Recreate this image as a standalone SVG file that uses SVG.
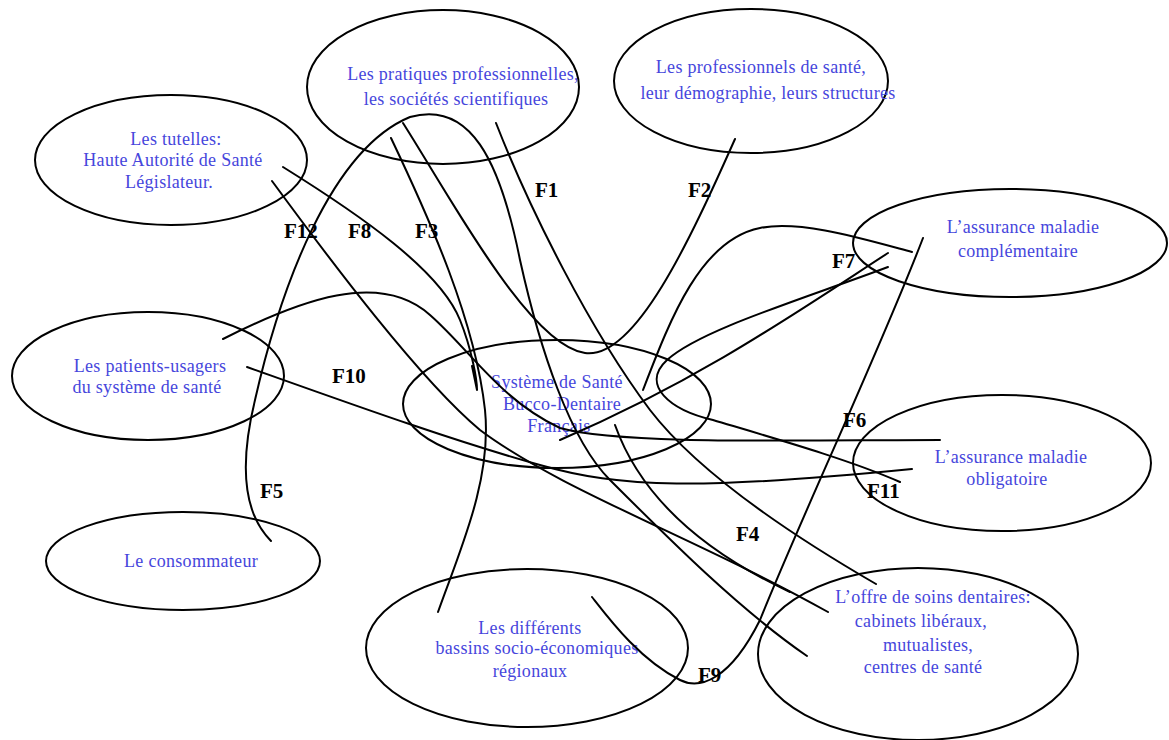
<svg xmlns="http://www.w3.org/2000/svg" width="1169" height="740" viewBox="0 0 1169 740">
  <style>
    .node ellipse { fill: none; stroke: #000; stroke-width: 2; }
    .node text { font-family: "Liberation Serif", "Times New Roman", serif; font-size: 18px; letter-spacing: 0.3px; fill: #4646dc; text-anchor: middle; }
    .flows path { fill: none; stroke: #000; stroke-width: 2; stroke-linecap: round; stroke-linejoin: round; }
    .flow-label { font-family: "Liberation Serif", "Times New Roman", serif; font-size: 21px; font-weight: bold; fill: #000; }
  </style>
  <rect width="1169" height="740" fill="#fff"/>

  <g id="pratiques" class="node">
    <ellipse cx="443" cy="87" rx="136" ry="77"/>
    <text x="463" y="80">Les pratiques professionnelles,</text>
    <text x="456" y="105">les sociétés scientifiques</text>
  </g>
  <g id="professionnels" class="node">
    <ellipse cx="751" cy="81" rx="137" ry="72"/>
    <text x="761" y="73">Les professionnels de santé,</text>
    <text x="768" y="99">leur démographie, leurs structures</text>
  </g>
  <g id="tutelles" class="node">
    <ellipse cx="171" cy="160" rx="136" ry="65"/>
    <text x="176" y="145">Les tutelles:</text>
    <text x="173" y="166">Haute Autorité de Santé</text>
    <text x="169" y="188">Législateur.</text>
  </g>
  <g id="patients" class="node">
    <ellipse cx="148" cy="376" rx="136" ry="64"/>
    <text x="150" y="372">Les patients-usagers</text>
    <text x="147" y="393">du système de santé</text>
  </g>
  <g id="consommateur" class="node">
    <ellipse cx="183" cy="561" rx="137" ry="49"/>
    <text x="191" y="567">Le consommateur</text>
  </g>
  <g id="systeme" class="node">
    <ellipse cx="557" cy="404" rx="154" ry="64"/>
    <text x="557" y="388">Système de Santé</text>
    <text x="562" y="410">Bucco-Dentaire</text>
    <text x="559" y="432">Français</text>
  </g>
  <g id="complementaire" class="node">
    <ellipse cx="1010" cy="243" rx="157" ry="54"/>
    <text x="1023" y="233">L’assurance maladie</text>
    <text x="1018" y="257">complémentaire</text>
  </g>
  <g id="obligatoire" class="node">
    <ellipse cx="1002" cy="463" rx="149" ry="68"/>
    <text x="1011" y="463">L’assurance maladie</text>
    <text x="1007" y="485">obligatoire</text>
  </g>
  <g id="offre" class="node">
    <ellipse cx="918" cy="654" rx="160" ry="86"/>
    <text x="933" y="603">L’offre de soins dentaires:</text>
    <text x="921" y="627">cabinets libéraux,</text>
    <text x="928" y="651">mutualistes,</text>
    <text x="923" y="673">centres de santé</text>
  </g>
  <g id="bassins" class="node">
    <ellipse cx="527" cy="648" rx="161" ry="79"/>
    <text x="530" y="634">Les différents</text>
    <text x="537" y="654">bassins socio-économiques</text>
    <text x="530" y="677">régionaux</text>
  </g>

  <g id="flows" class="flows">
    <!-- pratiques / professionnels loop under the system -->
    <path d="M403,123 C455,205 530,345 585,353 C635,360 690,240 735,139"/>
    <!-- pratiques to offre -->
    <path d="M496,123 C530,210 590,330 650,410 C700,475 800,540 876,584"/>
    <!-- pratiques to bassins -->
    <path d="M391,138 C430,220 475,320 485,410 C492,480 460,550 438,612"/>
    <!-- tutelles to system, hooked end -->
    <path d="M283,167 C360,215 440,270 460,320 C472,350 477,380 477,390 L472,366"/>
    <!-- tutelles to offre -->
    <path d="M272,181 C330,260 420,380 480,430 C560,490 700,540 828,612"/>
    <!-- consommateur arch over to offre -->
    <path d="M271,541 C245,515 238,470 255,400 C280,290 330,150 410,117 C470,100 500,160 520,260 C540,350 570,440 610,480 C670,540 740,610 807,656"/>
    <!-- patients arch to obligatoire -->
    <path d="M223,339 C300,300 380,270 430,315 C470,350 500,400 560,428 C620,445 800,440 940,440"/>
    <!-- patients to obligatoire, under the system -->
    <path d="M247,367 C340,400 450,440 540,465 C620,488 700,490 912,469"/>
    <!-- system to offre -->
    <path d="M615,425 C640,495 700,550 790,592"/>
    <!-- complementaire arch into system, hooked end -->
    <path d="M912,252 C860,238 800,220 760,228 C700,240 670,320 643,390 L652,367"/>
    <!-- complementaire straight into system -->
    <path d="M888,253 C800,310 700,380 560,440"/>
    <!-- complementaire loop to obligatoire -->
    <path d="M888,267 C800,300 700,330 667,360 C640,385 670,410 713,420 C780,440 850,460 900,482"/>
    <!-- complementaire down to bassins -->
    <path d="M923,238 C880,350 800,520 760,620 C730,680 700,690 680,680 C640,660 610,620 592,597"/>
  </g>

  <g id="flow-labels">
    <text class="flow-label" x="535" y="197">F1</text>
    <text class="flow-label" x="688" y="197">F2</text>
    <text class="flow-label" x="415" y="238">F3</text>
    <text class="flow-label" x="736" y="541">F4</text>
    <text class="flow-label" x="260" y="498">F5</text>
    <text class="flow-label" x="843" y="427">F6</text>
    <text class="flow-label" x="832" y="268">F7</text>
    <text class="flow-label" x="348" y="238">F8</text>
    <text class="flow-label" x="698" y="682">F9</text>
    <text class="flow-label" x="332" y="383">F10</text>
    <text class="flow-label" x="867" y="498">F11</text>
    <text class="flow-label" x="284" y="238">F12</text>
  </g>
</svg>
